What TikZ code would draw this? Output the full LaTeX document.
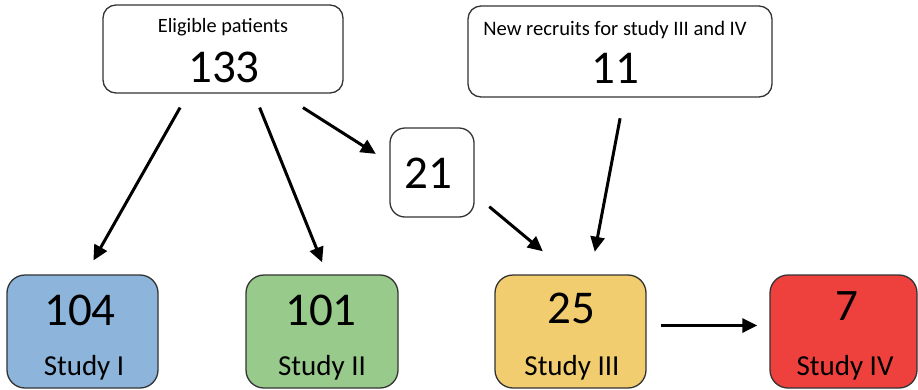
\documentclass[tikz,border=0pt]{standalone}
\usepackage{fontspec}
\setmainfont{Carlito}
\usetikzlibrary{arrows.meta,calc}
\definecolor{boxline}{HTML}{333333}
\definecolor{studyblue}{HTML}{8DB4DA}
\definecolor{studygreen}{HTML}{98CA8C}
\definecolor{studyyellow}{HTML}{F1CD6F}
\definecolor{studyred}{HTML}{EE413D}
\begin{document}
\begin{tikzpicture}[x=1pt,y=-1pt,
	box/.style={draw=boxline,line width=1.3pt,rounded corners=13pt,inner sep=0pt},
	studybox/.style={box,rounded corners=18pt,minimum width=151pt,minimum height=113pt},
	arr/.style={line width=3pt,-{Triangle[length=15pt,width=14pt]}},
	big/.style={font=\fontsize{47}{47}\selectfont,inner sep=0pt,anchor=base},
	small/.style={font=\fontsize{20.3}{20}\selectfont,inner sep=0pt,anchor=base},
	study/.style={font=\fontsize{29}{29}\selectfont,inner sep=0pt,anchor=base}]
	\useasboundingbox (0,0) rectangle (918,389);
	\node[box,minimum width=240pt,minimum height=88pt] (elig) at (223,49) {};
	\node[box,minimum width=304pt,minimum height=91pt] (recruit) at (620,51.5) {};
	\node[box,rounded corners=15pt,minimum width=84pt,minimum height=89pt] (mid) at (432,172.5) {};
	\node[studybox,fill=studyblue] (s1) at (82.5,331.5) {};
	\node[studybox,fill=studygreen,minimum width=152pt] (s2) at (322,331.5) {};
	\node[studybox,fill=studyyellow] (s3) at (570.5,331.5) {};
	\node[studybox,fill=studyred,minimum width=147pt] (s4) at (843.5,331.5) {};
	% texts
	\node[small] (eligtxt) at (223,32) {Eligible patients};
	\node[big] (eligno) at (224,82) {133};
	\node[small,font=\fontsize{20.6}{20}\selectfont] (recrtxt) at (615,35) {New recruits for study III and IV};
	\node[big] (recrno) at (615,83) {11};
	\node[big] (midno) at (428,188) {21};
	\node[big] (s1no) at (80,325) {104};
	\node[study] (s1txt) at (84,375) {Study I};
	\node[big] (s2no) at (321,325) {101};
	\node[study] (s2txt) at (322,375) {Study II};
	\node[big] (s3no) at (571,323) {25};
	\node[study] (s3txt) at (572,375) {Study III};
	\node[big,font=\fontsize{45}{45}\selectfont] (s4no) at (847,320) {7};
	\node[study] (s4txt) at (845,375) {Study IV};
	% arrows
	\draw[arr,shorten <=16pt,shorten >=16pt] ($(elig.south)+(-35,0)$) -- ($(s1.north)+(3,0)$);
	\draw[arr,shorten <=15pt,shorten >=13pt] ($(elig.south)+(31,0)$) -- ($(s2.north)+(5,0)$);
	\draw[arr,shorten <=26pt,shorten >=16pt] ($(elig.south)+(58,0)$) -- ($(mid.west)+(0,-10)$);
	\draw[arr,shorten <=19pt,shorten >=36pt] ($(mid.east)+(0,22)$) -- (s3.north);
	\draw[arr,shorten <=21pt,shorten >=23pt] ($(recruit.south)+(4,0)$) -- ($(s3.north)+(20,0)$);
	\draw[arr,shorten <=14pt,shorten >=12pt] ($(s3.east)+(0,-6)$) -- ($(s4.west)+(0,-6)$);
\end{tikzpicture}
\end{document}
